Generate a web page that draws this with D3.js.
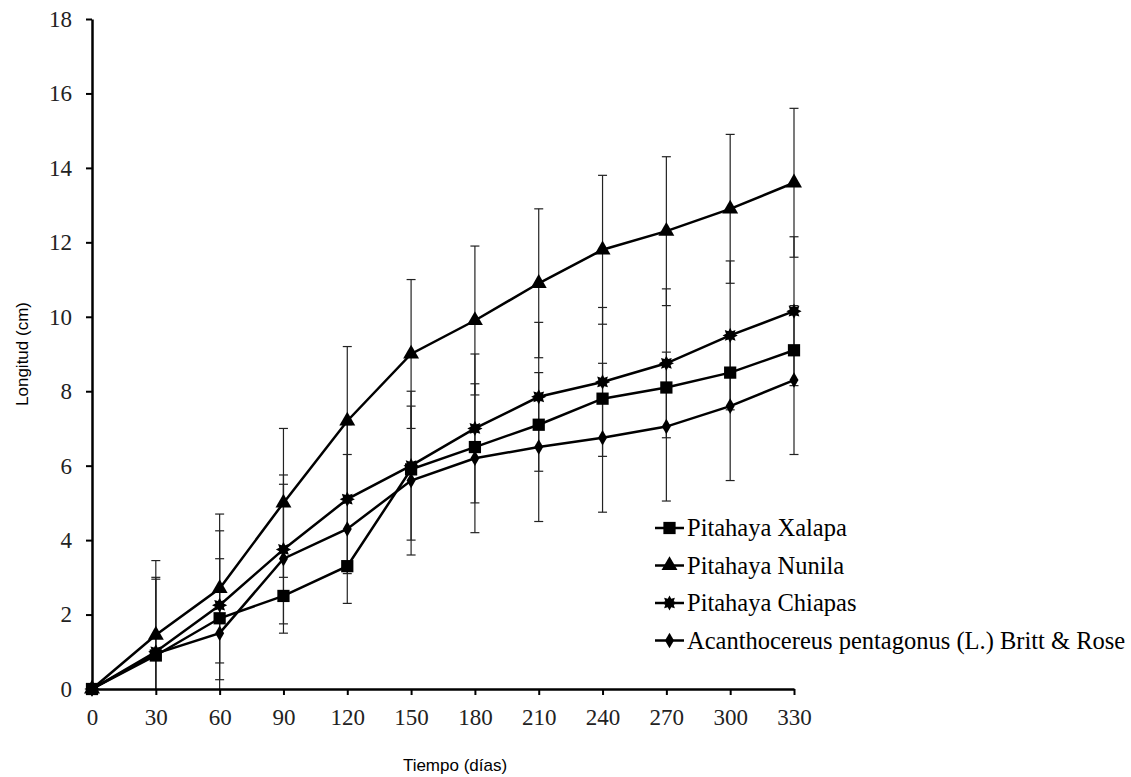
<!DOCTYPE html>
<meta charset="utf-8">
<style>
body { margin: 0; background: #fff; }
.axis path, .axis line { stroke: #000; }
</style>
<body>
<svg width="1131" height="777"></svg>
<script src="https://d3js.org/d3.v7.min.js"></script>
<script>

var dias = [0, 30, 60, 90, 120, 150, 180, 210, 240, 270, 300, 330];
var yTicks = [0, 2, 4, 6, 8, 10, 12, 14, 16, 18];

var xalapa = [0, 0.9, 1.9, 2.5, 3.3, 5.9, 6.5, 7.1, 7.8, 8.1, 8.5, 9.1];
var nunila = [0, 1.45, 2.7, 5.0, 7.2, 9.0, 9.9, 10.9, 11.8, 12.3, 12.9, 13.6];
var chiapas = [0, 1.0, 2.25, 3.75, 5.1, 6.0, 7.0, 7.85, 8.25, 8.75, 9.5, 10.15];
var acantho = [0, 0.95, 1.5, 3.5, 4.3, 5.6, 6.2, 6.5, 6.75, 7.05, 7.6, 8.3];

// error bars (+/-), Xalapa has none
var errNunila = [0, 2, 2, 2, 2, 2, 2, 2, 2, 2, 2, 2];
var errChiapas = [0, 2, 2, 2, 2, 2, 2, 2, 2, 2, 2, 2];
var errAcantho = [0, 2, 2, 2, 2, 2, 2, 2, 2, 2, 2, 2];

var serif = "'Liberation Serif', 'DejaVu Serif', 'Times New Roman', serif";
var sans = "'Liberation Sans', Arial, sans-serif";

// chunky 8 point star like the excel marker
var star8 = {
  draw: function(ctx, size) {
    var r = Math.sqrt(size) * 0.62, ri = r * 0.6;
    for (var k = 0; k < 16; k++) {
      var a = k * Math.PI / 8 - Math.PI / 2, rr = k % 2 ? ri : r;
      if (k === 0) ctx.moveTo(rr * Math.cos(a), rr * Math.sin(a));
      else ctx.lineTo(rr * Math.cos(a), rr * Math.sin(a));
    }
    ctx.closePath();
  }
};

var series = [
  {name: "Pitahaya Xalapa", values: xalapa, err: null, symbol: d3.symbolSquare, size: 150},
  {name: "Pitahaya Nunila", values: nunila, err: errNunila, symbol: d3.symbolTriangle, size: 110},
  {name: "Pitahaya  Chiapas", values: chiapas, err: errChiapas, symbol: star8, size: 150},
  {name: "Acanthocereus pentagonus (L.) Britt & Rose", values: acantho, err: errAcantho, symbol: d3.symbolDiamond, size: 70}
];

var svg = d3.select("svg");

var x = d3.scaleLinear().domain([0, 330]).range([92, 794]);
var y = d3.scaleLinear().domain([0, 18]).range([689, 19]);

// error bars
series.forEach(function(s) {
  if (!s.err) return;
  var g = svg.append("g").attr("stroke", "#222").attr("stroke-width", 1.2);
  dias.forEach(function(d, i) {
    if (!s.err[i]) return;
    var hi = s.values[i] + s.err[i], lo = Math.max(0, s.values[i] - s.err[i]);
    g.append("line")
        .attr("x1", x(d)).attr("x2", x(d))
        .attr("y1", y(hi)).attr("y2", y(lo));
    g.append("line")
        .attr("x1", x(d) - 4.5).attr("x2", x(d) + 4.5)
        .attr("y1", y(hi)).attr("y2", y(hi));
    if (s.values[i] - s.err[i] >= 0) {
      g.append("line")
          .attr("x1", x(d) - 4.5).attr("x2", x(d) + 4.5)
          .attr("y1", y(lo)).attr("y2", y(lo));
    }
  });
});

// axes
svg.append("g")
    .attr("class", "axis")
    .attr("transform", "translate(0," + y(0) + ")")
    .call(d3.axisBottom(x).tickValues(dias).tickSize(6).tickSizeOuter(0).tickPadding(14))
    .call(function(g) {
      g.attr("font-family", serif).attr("font-size", 23);
      g.selectAll(".tick text").attr("fill", "#222");
      g.select(".domain").attr("stroke-width", 2.5);
      g.selectAll(".tick line").attr("stroke-width", 2);
    });

svg.append("g")
    .attr("class", "axis")
    .attr("transform", "translate(" + x(0) + ",0)")
    .call(d3.axisLeft(y).tickValues(yTicks).tickSize(6).tickSizeOuter(0).tickPadding(14))
    .call(function(g) {
      g.attr("font-family", serif).attr("font-size", 23);
      g.selectAll(".tick text").attr("fill", "#222");
      g.select(".domain").attr("stroke-width", 2.5);
      g.selectAll(".tick line").attr("stroke-width", 2);
    });

// lines and markers
var line = d3.line()
    .x(function(d, i) { return x(dias[i]); })
    .y(function(d) { return y(d); });

series.forEach(function(s) {
  svg.append("path")
      .attr("d", line(s.values))
      .attr("fill", "none")
      .attr("stroke", "#000")
      .attr("stroke-width", 2.5);
  svg.append("g").selectAll("path")
    .data(s.values)
    .enter().append("path")
      .attr("transform", function(d, i) { return "translate(" + x(dias[i]) + "," + y(d) + ")"; })
      .attr("d", d3.symbol().type(s.symbol).size(s.size))
      .attr("fill", "#000");
});

// axis titles
svg.append("text")
    .attr("font-family", sans)
    .attr("font-size", 17)
    .attr("text-anchor", "middle")
    .attr("transform", "translate(28," + y(9) + ") rotate(-90)")
    .text("Longitud (cm)");

svg.append("text")
    .attr("font-family", sans)
    .attr("font-size", 17)
    .attr("text-anchor", "middle")
    .attr("x", 455)
    .attr("y", 771)
    .text("Tiempo (días)");

// legend
var legend = svg.append("g")
    .attr("font-family", serif)
    .attr("font-size", 24.5);
series.forEach(function(s, i) {
  var ly = 528 + i * 37.5;
  legend.append("line")
      .attr("x1", 655).attr("x2", 684)
      .attr("y1", ly).attr("y2", ly)
      .attr("stroke", "#000").attr("stroke-width", 2.5);
  legend.append("path")
      .attr("transform", "translate(669.5," + ly + ")")
      .attr("d", d3.symbol().type(s.symbol).size(s.size))
      .attr("fill", "#000");
  legend.append("text")
      .attr("x", 687)
      .attr("y", ly + 8)
      .attr("fill", "#000")
      .text(s.name);
});

</script>
</body>
